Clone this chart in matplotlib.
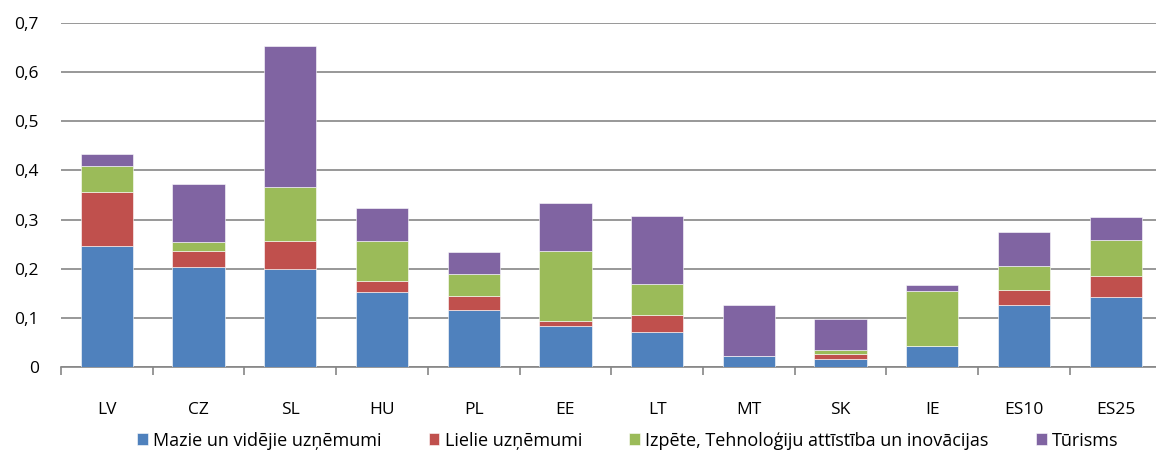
import numpy as np
import matplotlib.pyplot as plt
from matplotlib.ticker import FuncFormatter

plt.rcParams['font.family'] = ['Open Sans', 'DejaVu Sans']

# data
countries = ['LV', 'CZ', 'SL', 'HU', 'PL', 'EE', 'LT', 'MT', 'SK', 'IE', 'ES10', 'ES25']
mvu = [0.247, 0.204, 0.199, 0.152, 0.116, 0.083, 0.072, 0.022, 0.016, 0.044, 0.126, 0.143]
lielie = [0.110, 0.033, 0.057, 0.024, 0.028, 0.011, 0.034, 0.0, 0.011, 0.0, 0.030, 0.043]
izpete = [0.052, 0.018, 0.110, 0.081, 0.046, 0.143, 0.063, 0.0, 0.008, 0.111, 0.050, 0.073]
turisms = [0.024, 0.117, 0.286, 0.066, 0.044, 0.097, 0.138, 0.105, 0.063, 0.012, 0.068, 0.046]

series = [mvu, lielie, izpete, turisms]
names = ['Mazie un vidējie uzņēmumi', 'Lielie uzņēmumi',
         'Izpēte, Tehnoloģiju attīstība un inovācijas', 'Tūrisms']
colors = ['#4F81BD', '#C0504D', '#9BBB59', '#8064A2']

fig = plt.figure(figsize=(11.56, 4.5), dpi=100)
ax = fig.add_axes([0.0528, 0.1838, 0.952, 0.7658])

x = np.arange(len(countries))
bottom = np.zeros(len(countries))
for vals, name, c in zip(series, names, colors):
    ax.bar(x, vals, 0.57, bottom=bottom, color=c, label=name,
           edgecolor='white', linewidth=0.4, zorder=3)
    bottom += np.array(vals)

ax.set_ylim(0, 0.7)
ax.set_xlim(-0.5, len(countries) - 0.5)
ax.set_yticks(np.arange(0, 0.71, 0.1))
ax.yaxis.set_major_formatter(FuncFormatter(lambda v, p: '0' if v == 0 else ('%.1f' % v).replace('.', ',')))
ax.grid(axis='y', color='#868686', linewidth=1.2, zorder=0)
ax.set_axisbelow(True)

ax.set_xticks(x)
ax.set_xticklabels(countries)
ax.set_xticks(np.arange(-0.5, len(countries), 1), minor=True)
ax.tick_params(axis='x', which='major', length=0, pad=25, labelsize=12.5)
ax.tick_params(axis='x', which='minor', length=6, width=1.2, color='#868686')
ax.tick_params(axis='y', length=0, pad=16, labelsize=12.5)

for s in ['top', 'right', 'left']:
    ax.spines[s].set_visible(False)
ax.spines['bottom'].set_color('#868686')
ax.spines['bottom'].set_linewidth(1.2)

fig.legend(loc='lower center', bbox_to_anchor=(0.543, -0.035), ncol=4, frameon=False,
           fontsize=13, handlelength=0.6, handleheight=0.6, handletextpad=0.3,
           columnspacing=2.6)

fig.savefig('out.png', dpi=100)
